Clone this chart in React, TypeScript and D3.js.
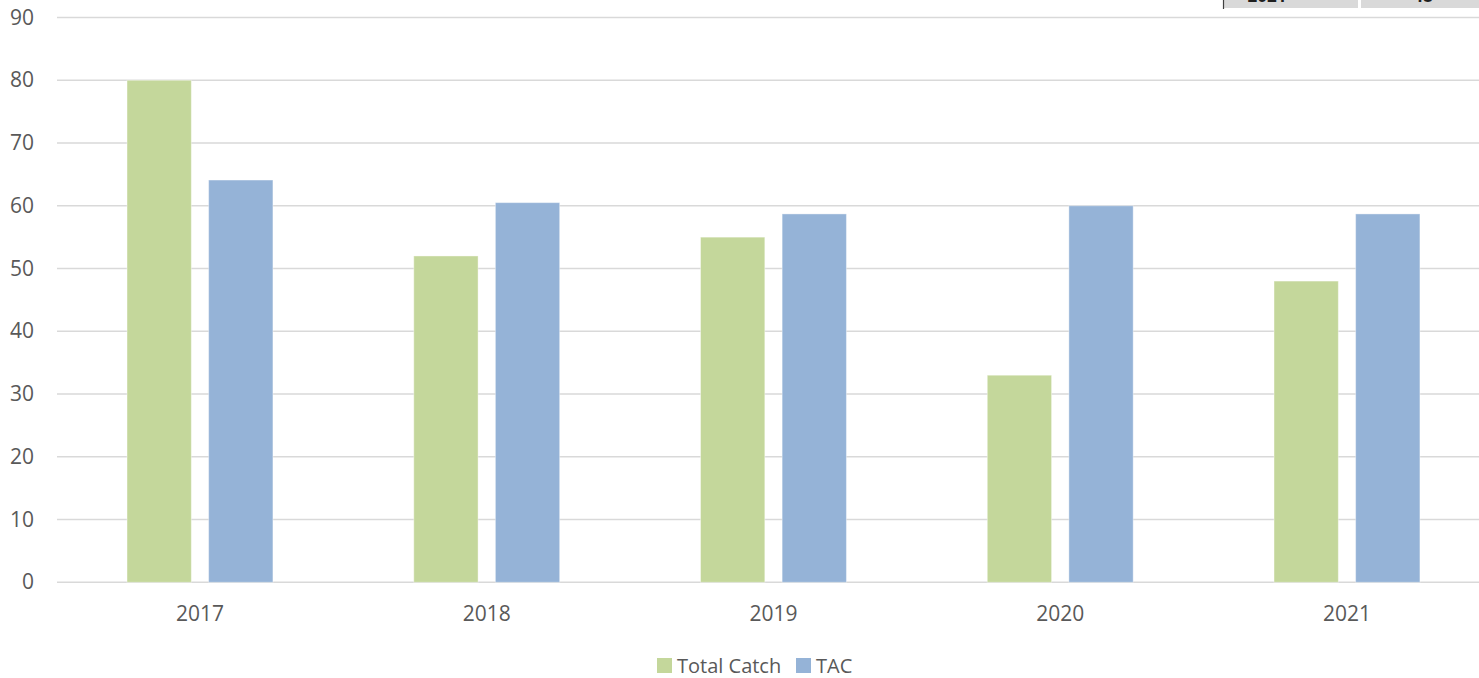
import React from "react";
import * as d3 from "d3";

const years = ["2017", "2018", "2019", "2020", "2021"];
const totalCatch = [80, 52, 55, 33, 48];
const tac = [64.1, 60.5, 58.7, 60, 58.7];
const yTicks = [0, 10, 20, 30, 40, 50, 60, 70, 80, 90];
const seriesNames = ["Total Catch", "TAC"];
const seriesColors = ["#c4d79b", "#95b3d7"];
const tableFragment = ["2021", "48"];

const W = 1479;
const H = 678;
const FONT = "'Open Sans', 'Noto Sans', sans-serif";

export default function App() {
  const x = d3.scaleBand<string>().domain(years).range([56.6, 56.6 + 286.75 * 5]).padding(0);
  const y = d3.scaleLinear().domain([0, 90]).range([582.3, 17.5]);
  const barW = 64.3;
  const gap = 17.3;
  const series = [totalCatch, tac];

  return (
    <svg width={W} height={H} style={{ position: "absolute", left: 0, top: 0, background: "#fff" }} fontFamily={FONT}>
      {/* table fragment at the top right */}
      <rect x={1224} y={-2} width={W - 1224} height={10} fill="#d9d9d9" />
      <line x1={1223.5} x2={1223.5} y1={0} y2={9} stroke="#404040" strokeWidth={1.2} />
      <rect x={1358} y={0} width={3} height={8} fill="#ffffff" />
      <text x={1267} y={2} textAnchor="middle" fontSize={17} fontWeight="bold" fill="#1f1f1f">{tableFragment[0]}</text>
      <text x={1423} y={2} textAnchor="middle" fontSize={17} fontWeight="bold" fill="#1f1f1f">{tableFragment[1]}</text>

      {/* gridlines */}
      {yTicks.map((t) => (
        <line key={t} x1={57} x2={W} y1={y(t)} y2={y(t)} stroke="#d9d9d9" strokeWidth={1.5} />
      ))}
      {yTicks.map((t) => (
        <text key={"l" + t} x={34} y={y(t) + 7} textAnchor="end" fontSize={21} fill="#595959">{t}</text>
      ))}

      {/* bars */}
      {years.map((yr, i) => {
        const c = (x(yr) ?? 0) + x.bandwidth() / 2;
        const starts = [c - gap / 2 - barW, c + gap / 2];
        return series.map((s, k) => (
          <rect
            key={yr + k}
            x={starts[k]}
            y={y(s[i])}
            width={barW}
            height={y(0) - y(s[i])}
            fill={seriesColors[k]}
            stroke="#ffffff"
            strokeOpacity={0.4}
            strokeWidth={1}
          />
        ));
      })}

      {/* x labels */}
      {years.map((yr) => (
        <text key={"x" + yr} x={(x(yr) ?? 0) + x.bandwidth() / 2} y={621} textAnchor="middle" fontSize={21} fill="#595959">{yr}</text>
      ))}

      {/* legend */}
      <rect x={657} y={658} width={15} height={15} fill={seriesColors[0]} />
      <text x={677} y={673} fontSize={20} fill="#595959">{seriesNames[0]}</text>
      <rect x={796} y={658} width={15} height={15} fill={seriesColors[1]} />
      <text x={816} y={673} fontSize={20} fill="#595959">{seriesNames[1]}</text>
    </svg>
  );
}
